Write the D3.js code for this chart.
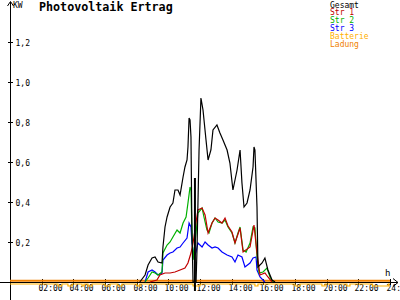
<!DOCTYPE html>
<html><head><meta charset="utf-8">
<script src="https://cdn.jsdelivr.net/npm/d3@7"></script>
<style>body{margin:0;background:#fff}svg{display:block}text{font-family:"DejaVu Sans Mono",monospace}</style>
</head><body>
<script>
// ---- data (hours, kW) ----
const xTicks = [2,4,6,8,10,12,14,16,18,20,22,24];
const xTickLabels = ["02:00","04:00","06:00","08:00","10:00","12:00","14:00","16:00","18:00","20:00","22:00","24:00"];
const yTicks = [0.2,0.4,0.6,0.8,1.0,1.2];
const yTickLabels = ["0,2","0,4","0,6","0,8","1,0","1,2"];
const legendNames = ["Gesamt","Str 1","Str 2","Str 3","Batterie","Ladung"];

const gesamtT = [8.2,8.53,8.72,8.97,9.16,9.35,9.6,9.66,9.79,9.92,10.11,10.29,10.42,10.61,10.74,10.93,11.05,11.18,11.24,11.31,11.37,11.43,11.49,11.56,11.75,11.81,11.94,12.06,12.19,12.38,12.51,12.69,12.82,13.07,13.26,13.45,13.71,13.89,14.08,14.34,14.53,14.65,14.78,14.97,15.16,15.35,15.41,15.47,15.6,15.66,15.92,16.1,16.29,16.55,16.74];
const gesamtV = [0,0.035,0.085,0.12,0.125,0.10,0.095,0.175,0.275,0.325,0.375,0.395,0.46,0.46,0.435,0.525,0.575,0.61,0.675,0.82,0.81,0.725,0.26,0,0,0.16,0.66,0.92,0.86,0.71,0.61,0.66,0.76,0.785,0.745,0.71,0.66,0.595,0.46,0.56,0.66,0.495,0.375,0.395,0.46,0.575,0.675,0.66,0.375,0.075,0.095,0.12,0.06,0.01,0];

const str1T = [8.84,9.28,9.47,9.79,10.11,10.42,10.74,11.05,11.24,11.43,11.56,11.62,11.75,11.87,12.13,12.32,12.51,12.76,12.95,13.14,13.39,13.58,13.77,14.02,14.21,14.53,14.72,15.16,15.41,15.6,15.79,16.1,16.29,16.55];
const str1V = [0,0.01,0.035,0.045,0.045,0.05,0.06,0.07,0.095,0.145,0.195,0.225,0.30,0.36,0.37,0.335,0.245,0.295,0.32,0.31,0.295,0.32,0.28,0.25,0.195,0.27,0.15,0.175,0.285,0.145,0.035,0.045,0.025,0];

const str2T = [8.53,8.72,8.97,9.16,9.35,9.6,9.66,9.92,10.11,10.29,10.55,10.74,10.93,11.12,11.24,11.37,11.43,11.49,11.56,11.75,11.87,12.13,12.25,12.44,12.57,12.76,12.95,13.14,13.39,13.58,13.77,14.02,14.21,14.4,14.53,14.72,14.91,15.16,15.35,15.47,15.6,15.73,15.98,16.23,16.42,16.61];
const str2V = [0,0.02,0.05,0.045,0.035,0.05,0.145,0.185,0.20,0.225,0.26,0.245,0.295,0.325,0.395,0.475,0.46,0.26,0.11,0.245,0.345,0.37,0.325,0.26,0.245,0.295,0.32,0.30,0.295,0.31,0.275,0.245,0.195,0.245,0.275,0.16,0.15,0.195,0.275,0.27,0.125,0.045,0.05,0.07,0.025,0];

const str3T = [8.53,8.72,8.97,9.16,9.35,9.6,9.66,9.92,10.11,10.29,10.55,10.74,10.93,11.18,11.31,11.43,11.49,11.62,11.75,11.87,12.13,12.32,12.51,12.76,12.95,13.14,13.39,13.71,14.02,14.21,14.4,14.65,14.84,15.16,15.35,15.54,15.6,15.79,16.1];
const str3V = [0,0.05,0.06,0.05,0.035,0.045,0.11,0.135,0.145,0.15,0.17,0.175,0.195,0.22,0.295,0.275,0.195,0.125,0.15,0.195,0.175,0.20,0.185,0.17,0.175,0.17,0.15,0.135,0.125,0.10,0.135,0.125,0.075,0.095,0.12,0.125,0.06,0.025,0];

const battT = [0,3.03,3.28,3.66,3.92,4.55,4.67,4.93,5.18,6.0,6.32,6.82,7.07,8.02,8.21,11.56,12.0,15.47,15.66,18.0,18.32,19.7,19.9,21.28,21.47,22.9,23.9,24];
const battV = [-0.01,-0.02,-0.01,-0.02,-0.01,-0.02,-0.01,-0.02,-0.01,-0.02,-0.01,-0.02,-0.01,-0.02,-0.01,-0.02,-0.01,-0.02,-0.01,-0.02,-0.01,-0.02,-0.01,-0.02,-0.01,-0.02,-0.01,-0.01];

const ladungT = [0,24];
const ladungV = [0.006,0.006];

const markerTime = 11.68;
const markerRange = [0.52,-0.045];

// ---- drawing ----
const W = 400, H = 300;
const colors = ["#000000","#c00000","#00b000","#0000ff","#ffb000","#f08000"];
const x = d3.scaleLinear().domain([0,24]).range([10,390]);
const y = d3.scaleLinear().domain([0,1.2]).range([282,42]);

const svg = d3.select("body").append("svg").attr("width",W).attr("height",H);

// axes
svg.append("line").attr("x1",0).attr("x2",398).attr("y1",y(0)+0.5).attr("y2",y(0)+0.5).attr("stroke","#000");
svg.append("path").attr("d",`M393,${y(0)-3.5}L398,${y(0)+0.5}L393,${y(0)+4.5}`).attr("fill","none").attr("stroke","#000");
svg.append("line").attr("x1",10.5).attr("x2",10.5).attr("y1",2).attr("y2",300).attr("stroke","#000");
svg.append("path").attr("d","M7.5,6L10.5,1.5L13.5,6").attr("fill","none").attr("stroke","#000");

yTicks.forEach((v,i)=>{
  const yy = Math.round(y(v))+0.5;
  svg.append("line").attr("x1",8).attr("x2",13).attr("y1",yy).attr("y2",yy).attr("stroke","#000");
  svg.append("text").attr("x",15.5).attr("y",yy+3).attr("font-size",8).attr("fill","#000").text(yTickLabels[i]);
});
xTicks.forEach((v,i)=>{
  const xx = Math.round(x(v))+0.5;
  svg.append("line").attr("x1",xx).attr("x2",xx).attr("y1",279).attr("y2",285).attr("stroke","#000");
  svg.append("text").attr("x",xx-4).attr("y",291).attr("font-size",8).attr("fill","#000").text(xTickLabels[i]);
});

svg.append("text").attr("x",13).attr("y",8).attr("font-size",8).text("KW");
svg.append("text").attr("x",385).attr("y",276).attr("font-size",9).text("h");
svg.append("text").attr("x",39).attr("y",11).attr("font-size",11.7).attr("font-weight","bold").text("Photovoltaik Ertrag");

legendNames.forEach((n,i)=>{
  svg.append("text").attr("x",330).attr("y",7.5+i*7.8).attr("font-size",8).attr("fill",colors[i]).text(n);
});

const mk = (T,V)=>T.map((t,i)=>[t,V[i]]);
const line = d3.line().x(d=>x(d[0])).y(d=>y(d[1]));
const stepLine = d3.line().x(d=>x(d[0])).y(d=>y(d[1])).curve(d3.curveStepAfter);

svg.append("path").attr("d",line(mk(ladungT,ladungV))).attr("fill","none").attr("stroke",colors[5]).attr("stroke-width",2);
svg.append("path").attr("d",stepLine(mk(battT,battV))).attr("fill","none").attr("stroke",colors[4]).attr("stroke-width",1.2);

[[str3T,str3V,3],[str2T,str2V,2],[str1T,str1V,1],[gesamtT,gesamtV,0]].forEach(([T,V,c])=>{
  svg.append("path").attr("d",line(mk(T,V))).attr("fill","none").attr("stroke",colors[c]).attr("stroke-width",1.2);
});

svg.append("line").attr("x1",x(markerTime)).attr("x2",x(markerTime))
  .attr("y1",y(markerRange[0])).attr("y2",y(markerRange[1])).attr("stroke","#000").attr("stroke-width",2);
</script>
</body></html>
